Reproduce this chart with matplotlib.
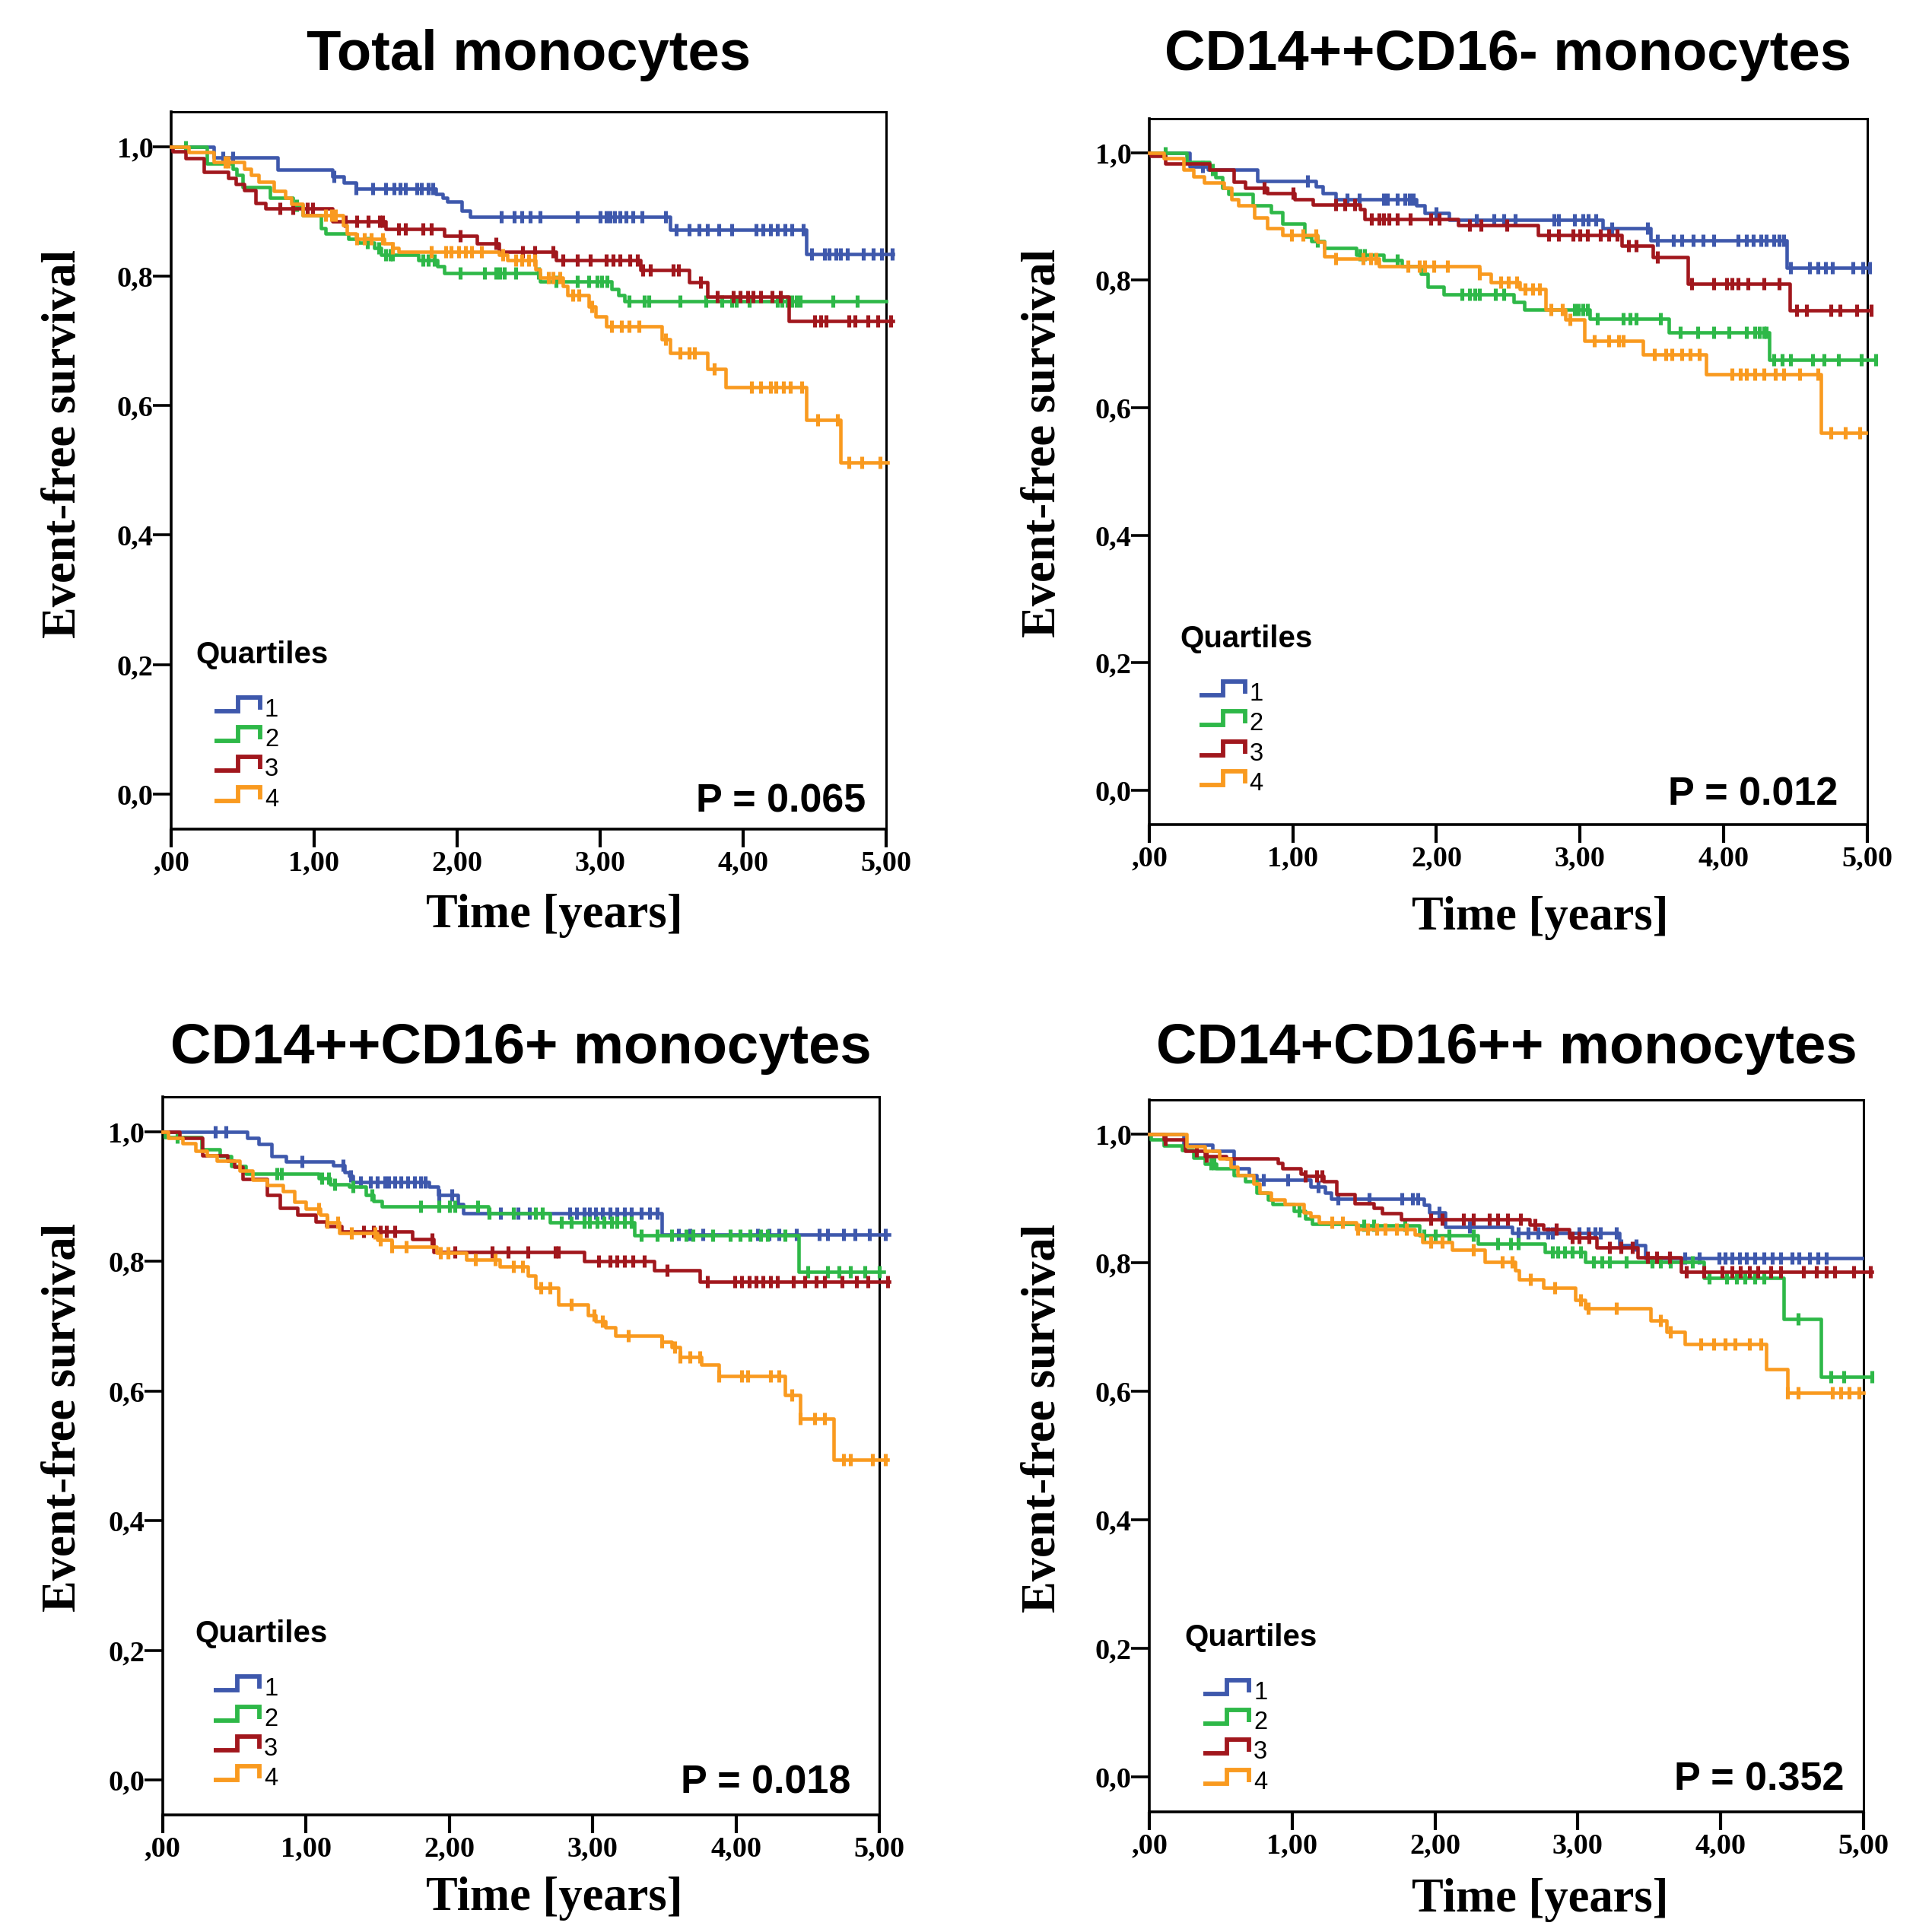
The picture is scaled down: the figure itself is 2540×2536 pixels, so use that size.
import matplotlib
matplotlib.use("Agg")
import matplotlib.pyplot as plt
import numpy as np

# ---------------- data ----------------
titles = ["Total monocytes", "CD14++CD16- monocytes",
          "CD14++CD16+ monocytes", "CD14+CD16++ monocytes"]
p_values = ["P = 0.065", "P = 0.012", "P = 0.018", "P = 0.352"]
quartile_labels = ["1", "2", "3", "4"]
x_tick_vals = [0, 1, 2, 3, 4, 5]
x_tick_labels = [",00", "1,00", "2,00", "3,00", "4,00", "5,00"]
y_tick_vals = [0.0, 0.2, 0.4, 0.6, 0.8, 1.0]
y_tick_labels = ["0,0", "0,2", "0,4", "0,6", "0,8", "1,0"]

# Panel 1: Total monocytes
p1_q1_t = [0, 0.30, 0.745, 1.13, 1.21, 1.29, 1.85, 1.90, 1.93, 2.03, 2.09, 3.49, 4.44]
p1_q1_s = [1.0, 0.983, 0.964, 0.954, 0.944, 0.935, 0.927, 0.921, 0.915, 0.901, 0.892, 0.872, 0.834]
p1_q1_end = 5.05
p1_q1_c = [0.36, 0.43, 1.14, 1.29, 1.41, 1.50, 1.56, 1.60, 1.64, 1.72, 1.75, 1.80, 1.83, 2.31, 2.40,
           2.45, 2.51, 2.58, 2.84, 3.00, 3.04, 3.07, 3.10, 3.14, 3.18, 3.23, 3.29, 3.46, 3.53, 3.62,
           3.69, 3.75, 3.83, 3.92, 4.09, 4.14, 4.19, 4.24, 4.29, 4.34, 4.42, 4.48, 4.57, 4.60, 4.65,
           4.68, 4.73, 4.84, 4.91, 4.97, 5.04]

p1_q2_t = [0, 0.25, 0.43, 0.46, 0.50, 0.69, 0.85, 0.92, 1.05, 1.08, 1.24, 1.31, 1.42, 1.47, 1.73,
           1.86, 1.91, 2.58, 3.08, 3.13, 3.17]
p1_q2_s = [1.0, 0.974, 0.966, 0.956, 0.937, 0.921, 0.909, 0.894, 0.874, 0.866, 0.858, 0.852, 0.843,
           0.833, 0.825, 0.815, 0.804, 0.792, 0.780, 0.770, 0.761]
p1_q2_end = 5.0
p1_q2_c = [0.10, 0.88, 1.37, 1.45, 1.50, 1.53, 1.55, 1.76, 1.80, 1.84, 2.02, 2.19, 2.27, 2.30, 2.33,
           2.41, 2.57, 2.69, 2.84, 2.92, 2.98, 3.01, 3.05, 3.20, 3.31, 3.34, 3.56, 3.74, 3.85, 3.92,
           3.95, 4.04, 4.24, 4.27, 4.31, 4.34, 4.37, 4.40, 4.63, 4.80]

p1_q3_t = [0, 0.01, 0.10, 0.23, 0.40, 0.45, 0.51, 0.59, 0.66, 1.13, 1.50, 1.91, 2.14, 2.29, 2.69,
           3.28, 3.62, 3.75, 4.32]
p1_q3_s = [1.0, 0.993, 0.982, 0.961, 0.952, 0.942, 0.933, 0.913, 0.905, 0.884, 0.873, 0.862, 0.850,
           0.838, 0.824, 0.809, 0.790, 0.768, 0.731]
p1_q3_end = 5.05
p1_q3_c = [0.76, 0.85, 0.95, 0.99, 1.22, 1.30, 1.38, 1.46, 1.48, 1.59, 1.64, 1.76, 1.82, 2.02, 2.27,
           2.46, 2.54, 2.67, 2.74, 2.84, 2.93, 3.04, 3.09, 3.14, 3.21, 3.26, 3.30, 3.35, 3.51, 3.55,
           3.70, 3.82, 3.93, 3.98, 4.03, 4.07, 4.12, 4.20, 4.26, 4.50, 4.54, 4.58, 4.74, 4.78, 4.87,
           4.94, 5.03]

p1_q4_t = [0, 0.12, 0.30, 0.51, 0.56, 0.61, 0.72, 0.80, 0.84, 0.92, 1.20, 1.23, 1.29, 1.49, 1.55,
           1.59, 2.29, 2.35, 2.55, 2.58, 2.74, 2.77, 2.92, 2.97, 3.04, 3.43, 3.49, 3.75, 3.88, 4.44,
           4.68]
p1_q4_s = [1.0, 0.991, 0.976, 0.966, 0.956, 0.946, 0.931, 0.921, 0.911, 0.894, 0.878, 0.866, 0.858,
           0.850, 0.843, 0.837, 0.833, 0.825, 0.811, 0.798, 0.784, 0.770, 0.753, 0.737, 0.722, 0.702,
           0.681, 0.657, 0.628, 0.578, 0.512]
p1_q4_end = 5.01
p1_q4_c = [0.38, 0.40, 1.08, 1.12, 1.15, 1.30, 1.35, 1.40, 1.48, 1.55, 1.82, 1.92, 1.96, 2.01, 2.06,
           2.10, 2.17, 2.32, 2.41, 2.45, 2.50, 2.54, 2.64, 2.67, 2.72, 2.81, 2.85, 2.94, 3.08, 3.15,
           3.20, 3.27, 3.46, 3.56, 3.62, 3.66, 3.80, 4.06, 4.12, 4.19, 4.23, 4.28, 4.33, 4.41, 4.52,
           4.66, 4.74, 4.83, 4.96]

# Panel 2: CD14++CD16-
p2_q1_t = [0, 0.28, 0.41, 0.75, 1.16, 1.21, 1.30, 1.86, 1.92, 2.09, 3.16, 3.49, 4.44]
p2_q1_s = [1.0, 0.978, 0.973, 0.955, 0.947, 0.937, 0.927, 0.917, 0.906, 0.895, 0.881, 0.862, 0.820]
p2_q1_end = 5.02
p2_q1_c = [0.37, 1.10, 1.38, 1.46, 1.63, 1.66, 1.73, 1.78, 1.81, 1.84, 2.00, 2.28, 2.40, 2.47, 2.55,
           2.82, 2.85, 2.96, 3.02, 3.06, 3.11, 3.22, 3.47, 3.54, 3.65, 3.71, 3.79, 3.86, 3.93, 4.10,
           4.16, 4.21, 4.26, 4.30, 4.35, 4.39, 4.42, 4.47, 4.60, 4.66, 4.71, 4.76, 4.90, 4.97, 5.02]

p2_q2_t = [0, 0.26, 0.42, 0.46, 0.51, 0.55, 0.72, 0.85, 0.93, 1.08, 1.13, 1.22, 1.44, 1.63, 1.76,
           1.89, 1.94, 2.05, 2.54, 2.61, 3.07, 3.62, 4.32]
p2_q2_s = [1.0, 0.985, 0.973, 0.961, 0.945, 0.935, 0.917, 0.907, 0.889, 0.869, 0.861, 0.850, 0.840,
           0.832, 0.822, 0.810, 0.790, 0.778, 0.766, 0.754, 0.739, 0.718, 0.675]
p2_q2_end = 5.06
p2_q2_c = [0.11, 0.44, 1.17, 1.47, 1.50, 1.73, 2.18, 2.23, 2.27, 2.30, 2.41, 2.47, 2.96, 2.99, 3.02,
           3.05, 3.12, 3.30, 3.35, 3.39, 3.56, 3.70, 3.82, 3.93, 4.04, 4.16, 4.22, 4.25, 4.28, 4.30,
           4.35, 4.41, 4.47, 4.62, 4.70, 4.80, 4.96, 5.06]

p2_q3_t = [0, 0.01, 0.11, 0.42, 0.59, 0.67, 0.82, 1.01, 1.14, 1.47, 1.50, 2.15, 2.71, 3.29, 3.51,
           3.75, 4.46]
p2_q3_s = [1.0, 0.995, 0.983, 0.973, 0.954, 0.945, 0.936, 0.927, 0.918, 0.911, 0.896, 0.886, 0.871,
           0.854, 0.836, 0.795, 0.753]
p2_q3_end = 5.03
p2_q3_c = [0.80, 1.00, 1.30, 1.36, 1.43, 1.55, 1.60, 1.63, 1.67, 1.73, 1.82, 1.96, 2.02, 2.23, 2.31,
           2.49, 2.78, 2.85, 2.95, 3.00, 3.05, 3.14, 3.20, 3.26, 3.34, 3.39, 3.54, 3.78, 3.93, 4.02,
           4.06, 4.10, 4.17, 4.28, 4.39, 4.51, 4.58, 4.75, 4.81, 4.93, 5.03]

p2_q4_t = [0, 0.10, 0.24, 0.31, 0.38, 0.52, 0.57, 0.62, 0.73, 0.82, 0.93, 1.17, 1.22, 1.30, 1.60,
           2.30, 2.38, 2.58, 2.76, 2.90, 3.03, 3.44, 3.88, 4.68]
p2_q4_s = [1.0, 0.991, 0.973, 0.963, 0.953, 0.945, 0.927, 0.917, 0.898, 0.881, 0.871, 0.860, 0.838,
           0.834, 0.822, 0.810, 0.797, 0.786, 0.754, 0.738, 0.705, 0.683, 0.653, 0.561]
p2_q4_end = 4.99
p2_q4_c = [0.99, 1.07, 1.16, 1.30, 1.49, 1.54, 1.58, 1.80, 1.88, 1.92, 1.98, 2.08, 2.30, 2.45, 2.50,
           2.56, 2.62, 2.67, 2.72, 2.80, 2.88, 2.93, 3.10, 3.20, 3.27, 3.30, 3.52, 3.60, 3.64, 3.71,
           3.77, 3.83, 4.06, 4.12, 4.16, 4.22, 4.28, 4.36, 4.42, 4.53, 4.66, 4.75, 4.85, 4.95]

# Panel 3: CD14++CD16+
p3_q1_t = [0, 0.59, 0.67, 0.76, 0.86, 1.19, 1.27, 1.30, 1.33, 1.86, 1.92, 2.06, 2.10, 3.48]
p3_q1_s = [1.0, 0.991, 0.981, 0.962, 0.954, 0.948, 0.938, 0.932, 0.923, 0.915, 0.903, 0.888, 0.874,
           0.842]
p3_q1_end = 5.07
p3_q1_c = [0.37, 0.44, 0.97, 1.26, 1.31, 1.38, 1.45, 1.50, 1.55, 1.58, 1.62, 1.66, 1.71, 1.76, 1.80,
           1.83, 1.93, 2.02, 2.36, 2.48, 2.56, 2.84, 2.89, 2.94, 2.98, 3.02, 3.07, 3.12, 3.17, 3.22,
           3.27, 3.34, 3.40, 3.45, 3.60, 3.68, 3.77, 4.15, 4.23, 4.30, 4.42, 4.58, 4.64, 4.75, 4.83,
           4.93, 5.04]

p3_q2_t = [0, 0.02, 0.27, 0.40, 0.48, 0.58, 1.09, 1.17, 1.30, 1.42, 1.47, 1.53, 2.27, 2.70, 3.29,
           4.44]
p3_q2_s = [1.0, 0.992, 0.973, 0.962, 0.947, 0.935, 0.928, 0.919, 0.915, 0.903, 0.893, 0.885, 0.874,
           0.860, 0.840, 0.784]
p3_q2_end = 5.03
p3_q2_c = [0.10, 0.80, 0.83, 1.11, 1.16, 1.20, 1.33, 1.46, 1.80, 1.93, 2.00, 2.04, 2.20, 2.28, 2.45,
           2.60, 2.65, 2.78, 2.85, 2.94, 2.98, 3.03, 3.08, 3.13, 3.17, 3.22, 3.27, 3.34, 3.45, 3.55,
           3.65, 3.70, 3.84, 3.96, 4.03, 4.10, 4.17, 4.22, 4.34, 4.50, 4.64, 4.72, 4.80, 4.90, 5.00]

p3_q3_t = [0, 0.12, 0.28, 0.45, 0.50, 0.56, 0.73, 0.82, 0.94, 1.07, 1.14, 1.25, 1.74, 1.89, 2.94,
           3.43, 3.75]
p3_q3_s = [1.0, 0.991, 0.964, 0.955, 0.946, 0.927, 0.903, 0.883, 0.872, 0.862, 0.854, 0.846, 0.835,
           0.815, 0.801, 0.786, 0.769]
p3_q3_end = 5.07
p3_q3_c = [1.40, 1.47, 1.52, 1.56, 1.62, 1.88, 2.04, 2.30, 2.41, 2.55, 2.74, 2.76, 3.04, 3.12, 3.17,
           3.22, 3.28, 3.36, 3.52, 3.80, 3.99, 4.04, 4.09, 4.14, 4.19, 4.24, 4.29, 4.40, 4.48, 4.56,
           4.62, 4.74, 4.84, 4.92, 5.06]

p3_q4_t = [0, 0.04, 0.14, 0.23, 0.31, 0.38, 0.54, 0.63, 0.73, 0.84, 0.92, 1.00, 1.10, 1.15, 1.23,
           1.50, 1.60, 1.91, 2.12, 2.35, 2.55, 2.60, 2.76, 2.97, 3.02, 3.09, 3.16, 3.48, 3.55, 3.61,
           3.76, 3.88, 4.34, 4.45, 4.68]
p3_q4_s = [1.0, 0.991, 0.982, 0.971, 0.964, 0.955, 0.940, 0.926, 0.918, 0.909, 0.892, 0.881, 0.872,
           0.860, 0.844, 0.833, 0.823, 0.813, 0.803, 0.792, 0.778, 0.759, 0.734, 0.717, 0.708, 0.698,
           0.685, 0.676, 0.668, 0.653, 0.641, 0.623, 0.594, 0.557, 0.494]
p3_q4_end = 5.06
p3_q4_c = [1.09, 1.15, 1.22, 1.32, 1.48, 1.52, 1.60, 1.70, 1.94, 1.99, 2.18, 2.32, 2.45, 2.51, 2.64,
           2.70, 2.85, 3.01, 3.07, 3.25, 3.48, 3.57, 3.61, 3.68, 3.75, 3.88, 4.04, 4.08, 4.24, 4.30,
           4.39, 4.45, 4.55, 4.62, 4.75, 4.80, 4.95, 5.04]

# Panel 4: CD14+CD16++
p4_q1_t = [0, 0.24, 0.44, 0.59, 0.70, 0.75, 1.13, 1.23, 1.27, 1.92, 1.96, 2.07, 2.54, 3.29, 3.47]
p4_q1_s = [1.0, 0.984, 0.974, 0.947, 0.937, 0.929, 0.919, 0.909, 0.900, 0.890, 0.879, 0.856, 0.847,
           0.828, 0.808]
p4_q1_end = 4.99
p4_q1_c = [0.80, 0.97, 1.18, 1.32, 1.54, 1.77, 1.84, 1.88, 2.03, 2.24, 2.58, 2.65, 2.72, 2.79, 2.82,
           3.01, 3.07, 3.12, 3.16, 3.27, 3.30, 3.41, 3.64, 3.75, 3.85, 3.99, 4.03, 4.08, 4.13, 4.18,
           4.24, 4.30, 4.36, 4.42, 4.50, 4.55, 4.62, 4.68, 4.74]

p4_q2_t = [0, 0.01, 0.10, 0.23, 0.31, 0.39, 0.47, 0.59, 0.67, 0.75, 0.83, 0.86, 1.01, 1.09, 1.14,
           1.45, 1.89, 2.30, 2.77, 3.05, 3.88, 4.44, 4.70]
p4_q2_s = [1.0, 0.992, 0.983, 0.975, 0.964, 0.954, 0.947, 0.937, 0.927, 0.909, 0.899, 0.891, 0.881,
           0.869, 0.861, 0.858, 0.843, 0.830, 0.817, 0.801, 0.777, 0.713, 0.623]
p4_q2_end = 5.06
p4_q2_c = [0.43, 0.45, 1.05, 1.50, 1.57, 1.79, 1.92, 2.00, 2.10, 2.27, 2.44, 2.53, 2.58, 2.82, 2.86,
           2.91, 2.96, 3.02, 3.11, 3.17, 3.22, 3.34, 3.52, 3.58, 3.65, 3.80, 3.92, 4.04, 4.11, 4.17,
           4.24, 4.30, 4.54, 4.77, 4.86, 5.06]

p4_q3_t = [0, 0.10, 0.25, 0.39, 0.54, 0.90, 0.93, 1.06, 1.09, 1.22, 1.31, 1.44, 1.57, 1.63, 1.76,
           2.66, 2.76, 2.94, 3.13, 3.42, 3.72]
p4_q3_s = [1.0, 0.992, 0.974, 0.966, 0.963, 0.956, 0.947, 0.939, 0.935, 0.927, 0.907, 0.893, 0.886,
           0.877, 0.868, 0.860, 0.852, 0.840, 0.824, 0.809, 0.786]
p4_q3_end = 5.06
p4_q3_c = [0.11, 0.33, 0.40, 1.09, 1.17, 1.21, 1.97, 2.05, 2.20, 2.27, 2.38, 2.44, 2.51, 2.60, 2.70,
           2.85, 2.96, 3.01, 3.08, 3.22, 3.30, 3.38, 3.49, 3.55, 3.64, 3.76, 3.88, 4.01, 4.08, 4.14,
           4.20, 4.26, 4.35, 4.42, 4.58, 4.67, 4.74, 4.80, 4.93, 5.05]

p4_q4_t = [0, 0.26, 0.39, 0.49, 0.57, 0.62, 0.73, 0.77, 0.85, 0.95, 1.08, 1.13, 1.19, 1.45, 1.86,
           1.91, 2.12, 2.35, 2.56, 2.59, 2.76, 2.98, 3.05, 3.51, 3.62, 3.75, 4.32, 4.47]
p4_q4_s = [1.0, 0.982, 0.974, 0.962, 0.950, 0.937, 0.923, 0.909, 0.899, 0.891, 0.879, 0.873, 0.863,
           0.852, 0.844, 0.832, 0.820, 0.802, 0.788, 0.774, 0.761, 0.743, 0.729, 0.711, 0.693, 0.674,
           0.635, 0.598]
p4_q4_end = 5.0
p4_q4_c = [1.28, 1.35, 1.46, 1.53, 1.59, 1.65, 1.73, 1.80, 1.97, 2.05, 2.27, 2.47, 2.54, 2.67, 2.84,
           3.02, 3.07, 3.27, 3.58, 3.65, 3.86, 3.95, 4.03, 4.10, 4.20, 4.28, 4.47, 4.54, 4.78, 4.84,
           4.90, 4.97]

# ---------------- styling / layout ----------------
colors = ["#3E58AC", "#2EB848", "#A1171D", "#F99A1F"]
SERIF = "Liberation Serif"
SANS = "Liberation Sans"
W, H = 2540, 2536

panels = [
    dict(rect=(225, 1089.7, 940, 943), curves=[
        (p1_q1_t, p1_q1_s, p1_q1_end, p1_q1_c), (p1_q2_t, p1_q2_s, p1_q2_end, p1_q2_c),
        (p1_q3_t, p1_q3_s, p1_q3_end, p1_q3_c), (p1_q4_t, p1_q4_s, p1_q4_end, p1_q4_c)],
        ylab=(-0.150, 0.537), xlab=(0.536, -0.121), leg=(0.034, 0.231), pv=(0.972, 0.024),
        title_y=92),
    dict(rect=(1511, 1084, 943.5, 928.5), curves=[
        (p2_q1_t, p2_q1_s, p2_q1_end, p2_q1_c), (p2_q2_t, p2_q2_s, p2_q2_end, p2_q2_c),
        (p2_q3_t, p2_q3_s, p2_q3_end, p2_q3_c), (p2_q4_t, p2_q4_s, p2_q4_end, p2_q4_c)],
        ylab=(-0.147, 0.540), xlab=(0.545, -0.132), leg=(0.043, 0.251), pv=(0.960, 0.028),
        title_y=92),
    dict(rect=(213.7, 2386, 942.3, 944), curves=[
        (p3_q1_t, p3_q1_s, p3_q1_end, p3_q1_c), (p3_q2_t, p3_q2_s, p3_q2_end, p3_q2_c),
        (p3_q3_t, p3_q3_s, p3_q3_end, p3_q3_c), (p3_q4_t, p3_q4_s, p3_q4_end, p3_q4_c)],
        ylab=(-0.138, 0.554), xlab=(0.547, -0.117), leg=(0.045, 0.240), pv=(0.960, 0.030),
        title_y=1398),
    dict(rect=(1511, 2382, 939, 936.3), curves=[
        (p4_q1_t, p4_q1_s, p4_q1_end, p4_q1_c), (p4_q2_t, p4_q2_s, p4_q2_end, p4_q2_c),
        (p4_q3_t, p4_q3_s, p4_q3_end, p4_q3_c), (p4_q4_t, p4_q4_s, p4_q4_end, p4_q4_c)],
        ylab=(-0.148, 0.553), xlab=(0.547, -0.124), leg=(0.049, 0.233), pv=(0.973, 0.030),
        title_y=1398),
]

fig = plt.figure(figsize=(W / 100, H / 100), dpi=100)

for i, pan in enumerate(panels):
    left, bottom, aw, ah = pan["rect"]
    ax = fig.add_axes([left / W, 1 - bottom / H, aw / W, ah / H])
    ax.set_xlim(0, 5)
    ax.set_ylim(-0.054, 1.054)
    for name, sp in ax.spines.items():
        sp.set_linewidth(2.6 if name in ("left", "bottom") else 2.2)
    ax.set_xticks(x_tick_vals, x_tick_labels, fontfamily=SERIF, fontweight="bold", fontsize=27.5)
    ax.set_yticks(y_tick_vals, y_tick_labels, fontfamily=SERIF, fontweight="bold", fontsize=27.5)
    ax.tick_params(axis="x", direction="out", length=17, width=3.0, pad=3)
    ax.tick_params(axis="y", direction="out", length=17, width=2.6, pad=0)

    for (t, s, end, cens), col in zip(pan["curves"], colors):
        tt = np.array(list(t) + [end])
        ss = np.array(list(s) + [s[-1]])
        ax.step(tt, ss, where="post", color=col, lw=3.3, clip_on=False, zorder=3)
        c = np.array(cens)
        idx = np.searchsorted(np.array(t), c, side="right") - 1
        cy = np.array(s)[idx]
        ax.plot(c, cy, linestyle="none", marker="|", ms=11, mew=3.7, color=col,
                clip_on=False, zorder=3)

    # titles / labels
    fig.text((left + aw / 2) / W, 1 - pan["title_y"] / H, titles[i], ha="center",
             va="baseline", fontsize=53.5, fontweight="bold", fontfamily=SANS)
    ax.text(pan["ylab"][0], pan["ylab"][1], "Event-free survival", rotation=90,
            transform=ax.transAxes, ha="center", va="center", fontsize=45,
            fontweight="bold", fontfamily=SERIF)
    ax.text(pan["xlab"][0], pan["xlab"][1], "Time [years]", transform=ax.transAxes,
            ha="center", va="center", fontsize=45, fontweight="bold", fontfamily=SERIF)
    ax.text(pan["pv"][0], pan["pv"][1], p_values[i], transform=ax.transAxes, ha="right",
            va="baseline", fontsize=37.5, fontweight="bold", fontfamily=SANS)

    # legend
    lx, ly = pan["leg"]
    ax.text(lx, ly, "Quartiles", transform=ax.transAxes, ha="left", va="baseline",
            fontsize=29, fontweight="bold", fontfamily=SANS)
    fx, fy = 1 / aw, 1 / ah
    for k, (lab, col) in enumerate(zip(quartile_labels, colors)):
        off = 39.3 * k
        xs = [lx + 25 * fx, lx + 56 * fx, lx + 56 * fx, lx + 85 * fx, lx + 85 * fx]
        ys = [ly - (63 + off) * fy, ly - (63 + off) * fy, ly - (45 + off) * fy,
              ly - (45 + off) * fy, ly - (61 + off) * fy]
        ax.plot(xs, ys, transform=ax.transAxes, color=col, lw=4.2, clip_on=False,
                solid_joinstyle="miter", solid_capstyle="butt")
        ax.text(lx + 91 * fx, ly - (70 + off) * fy, lab, transform=ax.transAxes,
                ha="left", va="baseline", fontsize=23.5, fontfamily=SANS)

fig.savefig("out.png", dpi=100)
